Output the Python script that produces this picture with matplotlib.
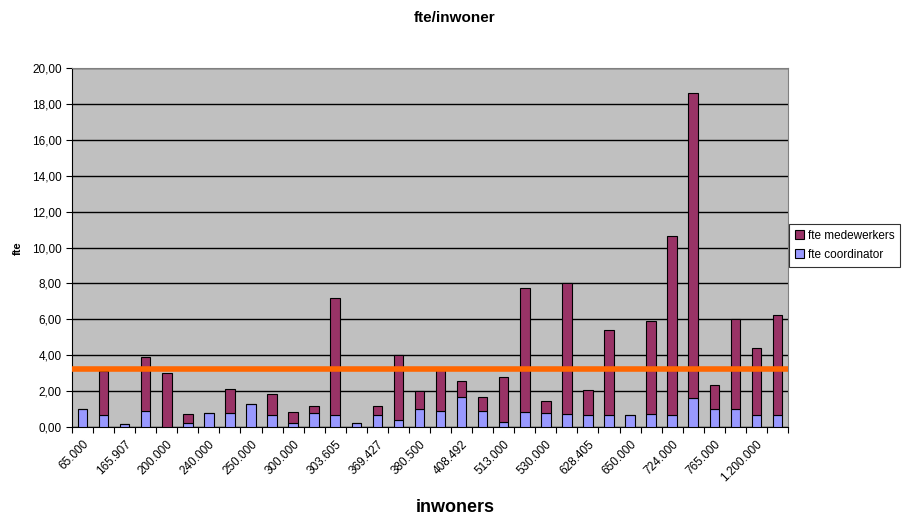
import matplotlib

matplotlib.use("Agg")
import matplotlib.pyplot as plt
import matplotlib.transforms as mtransforms
import numpy as np
from matplotlib.ticker import FuncFormatter, MultipleLocator

plt.rcParams["font.family"] = ["Liberation Sans", "DejaVu Sans"]

# inhabitants per organisation (only every other one gets a label)
labels = ["65.000", "165.907", "200.000", "240.000", "250.000", "300.000",
          "303.605", "369.427", "380.500", "408.492", "513.000", "530.000",
          "628.405", "650.000", "724.000", "765.000", "1.200.000"]

fte_coordinator = [1.00, 0.65, 0.17, 0.91, 0.00, 0.22, 0.78, 0.80, 1.30, 0.65,
                   0.22, 0.76, 0.69, 0.22, 0.67, 0.41, 1.01, 0.91, 1.66, 0.91,
                   0.26, 0.86, 0.78, 0.74, 0.67, 0.67, 0.69, 0.74, 0.65, 1.60,
                   1.02, 1.01, 0.65, 0.69]
fte_total = [1.00, 3.13, 0.17, 3.89, 3.02, 0.71, 0.78, 2.10, 1.30, 1.86,
             0.82, 1.19, 7.19, 0.22, 1.15, 4.02, 2.01, 3.20, 2.57, 1.69,
             2.81, 7.74, 1.45, 8.02, 2.05, 5.38, 0.69, 5.88, 10.65, 18.59,
             2.35, 6.00, 4.38, 6.22]
fte_medewerkers = [t - c for t, c in zip(fte_total, fte_coordinator)]
average_line = 3.24

fig = plt.figure(figsize=(9.10, 5.18), dpi=100)
ax = fig.add_axes([72 / 910, 1 - 427 / 518, (788 - 72) / 910, (427 - 68) / 518])
ax.set_facecolor("#C0C0C0")

x = np.arange(len(fte_total))
w = 0.45
ax.bar(x, fte_coordinator, w, color="#9999FF", edgecolor="black", lw=0.8,
       label="fte coordinator", zorder=3)
ax.bar(x, fte_medewerkers, w, bottom=fte_coordinator, color="#993366",
       edgecolor="black", lw=0.8, label="fte medewerkers", zorder=3)
ax.axhline(average_line, color="#FF6600", lw=4, zorder=4)

ax.set_xlim(-0.5, len(x) - 0.5)
ax.set_ylim(0, 20)
ax.yaxis.set_major_locator(MultipleLocator(2))
ax.yaxis.set_major_formatter(FuncFormatter(lambda v, _: f"{v:.2f}".replace(".", ",")))
ax.grid(axis="y", color="black", lw=1, zorder=1)

# tick marks on category boundaries, labels on every second category
ax.set_xticks(np.arange(-0.5, len(x)), minor=False)
ax.set_xticklabels([])
ax.set_xticks(x[::2], minor=True)
ax.set_xticklabels(labels, minor=True, rotation=45, ha="right",
                   rotation_mode="anchor", fontsize=8.5)
shift = mtransforms.ScaledTranslation(-5 / 100, -4 / 100, fig.dpi_scale_trans)
for lbl in ax.get_xticklabels(minor=True):
    lbl.set_transform(lbl.get_transform() + shift)
ax.tick_params(axis="x", which="major", length=4, direction="out")
ax.tick_params(axis="x", which="minor", length=0, pad=8)
ax.tick_params(axis="y", labelsize=8.5, length=4)

for side in ["top", "right"]:
    ax.spines[side].set_color("#808080")
for side in ["left", "bottom"]:
    ax.spines[side].set_color("black")

fig.text(0.5, 1 - 18 / 518, "fte/inwoner", ha="center", va="center",
         fontsize=11, fontweight="bold")
fig.text(0.5, 1 - 507 / 518, "inwoners", ha="center", va="center",
         fontsize=13, fontweight="bold")
fig.text(18 / 910, 1 - 248 / 518, "fte", ha="center", va="center",
         fontsize=8, fontweight="bold", rotation=90)

handles, names = ax.get_legend_handles_labels()
leg = fig.legend(handles[::-1], names[::-1], loc="upper left",
                 bbox_to_anchor=(789 / 910, 1 - 224 / 518), fontsize=8.5,
                 frameon=True, fancybox=False, edgecolor="black",
                 handlelength=0.8, handleheight=0.8, handletextpad=0.3,
                 borderpad=0.5, labelspacing=0.6, borderaxespad=0)
leg.get_frame().set_linewidth(0.8)

fig.savefig("out.png", dpi=100)
